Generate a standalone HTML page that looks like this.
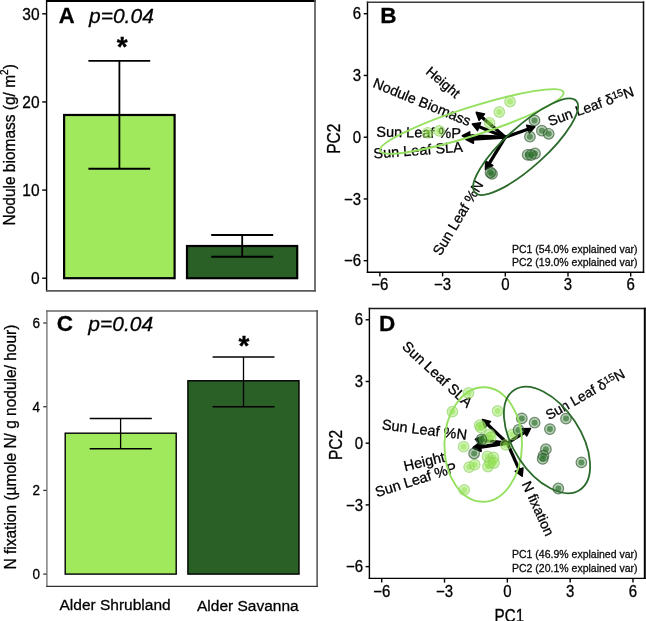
<!DOCTYPE html>
<html><head><meta charset="utf-8"><style>
html,body{margin:0;padding:0;background:#fff;}
svg{display:block;}
text{font-family:"Liberation Sans",sans-serif;stroke:#000;stroke-width:0.28px;}
</style></head><body>
<svg width="646" height="621" viewBox="0 0 646 621">
<defs><filter id="bl" x="0" y="0" width="100%" height="100%"><feGaussianBlur stdDeviation="0.45"/></filter></defs>
<rect width="646" height="621" fill="#fff"/>
<g filter="url(#bl)">
<rect width="646" height="621" fill="#fff"/>
<line x1="46.6" y1="0" x2="46.6" y2="291.5" stroke="#000" stroke-width="1.4" />
<line x1="46" y1="1" x2="316" y2="1" stroke="#000" stroke-width="2.2" />
<line x1="315" y1="0" x2="315" y2="291.5" stroke="#5a5a5a" stroke-width="1.7" />
<line x1="46" y1="290.8" x2="316" y2="290.8" stroke="#5a5a5a" stroke-width="1.7" />
<line x1="42.2" y1="278.2" x2="46.6" y2="278.2" stroke="#000" stroke-width="1.4" />
<text transform="translate(39.6,283.9) scale(1,1.09)" font-size="15.5" text-anchor="end" font-weight="normal" font-style="normal" fill="#000" >0</text>
<line x1="42.2" y1="190.07" x2="46.6" y2="190.07" stroke="#000" stroke-width="1.4" />
<text transform="translate(39.6,195.76999999999998) scale(1,1.09)" font-size="15.5" text-anchor="end" font-weight="normal" font-style="normal" fill="#000" >10</text>
<line x1="42.2" y1="101.93999999999997" x2="46.6" y2="101.93999999999997" stroke="#000" stroke-width="1.4" />
<text transform="translate(39.6,107.63999999999997) scale(1,1.09)" font-size="15.5" text-anchor="end" font-weight="normal" font-style="normal" fill="#000" >20</text>
<line x1="42.2" y1="13.809999999999945" x2="46.6" y2="13.809999999999945" stroke="#000" stroke-width="1.4" />
<text transform="translate(39.6,19.509999999999945) scale(1,1.09)" font-size="15.5" text-anchor="end" font-weight="normal" font-style="normal" fill="#000" >30</text>
<rect x="64.1" y="114.98" width="110.5" height="163.22" fill="#a0e85c" stroke="#000" stroke-width="2.2"/>
<rect x="187" y="246" width="110.2" height="32.20" fill="#2a5e28" stroke="#000" stroke-width="2.2"/>
<line x1="119.4" y1="60.9" x2="119.4" y2="168.8" stroke="#000" stroke-width="1.8" />
<line x1="88.4" y1="60.9" x2="150.2" y2="60.9" stroke="#000" stroke-width="1.9" />
<line x1="88.4" y1="168.8" x2="150.2" y2="168.8" stroke="#000" stroke-width="1.9" />
<line x1="242.2" y1="235" x2="242.2" y2="256.8" stroke="#000" stroke-width="1.8" />
<line x1="211.2" y1="235" x2="273.2" y2="235" stroke="#000" stroke-width="1.9" />
<line x1="211.2" y1="256.8" x2="273.2" y2="256.8" stroke="#000" stroke-width="1.9" />
<text x="58.8" y="23.2" font-size="22" text-anchor="start" font-weight="bold" font-style="normal" fill="#000" >A</text>
<text x="89" y="23.4" font-size="21" text-anchor="start" font-weight="normal" font-style="italic" fill="#000" >p=0.04</text>
<text x="122.2" y="56" font-size="28" text-anchor="middle" font-weight="bold" font-style="normal" fill="#000" >*</text>
<text transform="translate(15.2,225.5) rotate(-90) scale(1,1.12)" font-size="15.5" fill="#000">Nodule biomass (g/ m<tspan font-size="10" dy="-6">2</tspan><tspan dy="6">)</tspan></text>
<line x1="46.9" y1="310.3" x2="46.9" y2="587" stroke="#777" stroke-width="1.4" />
<line x1="46.2" y1="311" x2="317.8" y2="311" stroke="#666" stroke-width="1.5" />
<line x1="317.1" y1="310.3" x2="317.1" y2="587" stroke="#444" stroke-width="1.4" />
<line x1="46.2" y1="586.4" x2="317.8" y2="586.4" stroke="#333" stroke-width="1.4" />
<line x1="43.3" y1="574.1" x2="46.5" y2="574.1" stroke="#333" stroke-width="1.3" />
<text transform="translate(39.9,579.1) scale(1,1.07)" font-size="13.5" text-anchor="end" font-weight="normal" font-style="normal" fill="#000" >0</text>
<line x1="43.3" y1="490.40000000000003" x2="46.5" y2="490.40000000000003" stroke="#333" stroke-width="1.3" />
<text transform="translate(39.9,495.40000000000003) scale(1,1.07)" font-size="13.5" text-anchor="end" font-weight="normal" font-style="normal" fill="#000" >2</text>
<line x1="43.3" y1="406.70000000000005" x2="46.5" y2="406.70000000000005" stroke="#333" stroke-width="1.3" />
<text transform="translate(39.9,411.70000000000005) scale(1,1.07)" font-size="13.5" text-anchor="end" font-weight="normal" font-style="normal" fill="#000" >4</text>
<line x1="43.3" y1="323.0" x2="46.5" y2="323.0" stroke="#333" stroke-width="1.3" />
<text transform="translate(39.9,328.0) scale(1,1.07)" font-size="13.5" text-anchor="end" font-weight="normal" font-style="normal" fill="#000" >6</text>
<rect x="65.2" y="433.19" width="111" height="140.91" fill="#a0e85c" stroke="#000" stroke-width="1.4"/>
<rect x="187.9" y="380.75" width="111.1" height="193.35" fill="#2a5e28" stroke="#000" stroke-width="1.4"/>
<line x1="120.6" y1="418.6" x2="120.6" y2="448.7" stroke="#000" stroke-width="1.3" />
<line x1="89.7" y1="418.6" x2="151.8" y2="418.6" stroke="#000" stroke-width="1.5" />
<line x1="89.7" y1="448.7" x2="151.8" y2="448.7" stroke="#000" stroke-width="1.5" />
<line x1="243.5" y1="357.1" x2="243.5" y2="406.7" stroke="#000" stroke-width="1.3" />
<line x1="212.6" y1="357.1" x2="274.5" y2="357.1" stroke="#000" stroke-width="1.5" />
<line x1="212.6" y1="406.7" x2="274.5" y2="406.7" stroke="#000" stroke-width="1.5" />
<text x="56.8" y="331" font-size="22.5" text-anchor="start" font-weight="bold" font-style="normal" fill="#000" >C</text>
<text x="88.3" y="330.7" font-size="21" text-anchor="start" font-weight="normal" font-style="italic" fill="#000" >p=0.04</text>
<text x="243.9" y="355" font-size="28" text-anchor="middle" font-weight="bold" font-style="normal" fill="#000" >*</text>
<text transform="translate(16,569.5) rotate(-90) scale(1,1.07)" font-size="15.5" fill="#000">N fixation (µmole N/ g nodule/ hour)</text>
<text x="59.5" y="609.7" font-size="15.5" text-anchor="start" font-weight="normal" font-style="normal" fill="#000" >Alder Shrubland</text>
<text x="197" y="611.1" font-size="15.5" text-anchor="start" font-weight="normal" font-style="normal" fill="#000" >Alder Savanna</text>
<line x1="367.5" y1="1.5999999999999999" x2="367.5" y2="272.9" stroke="#000" stroke-width="1.4" />
<line x1="366.8" y1="2.3" x2="644.25" y2="2.3" stroke="#3a3a3a" stroke-width="1.4" />
<line x1="643.5" y1="1.5999999999999999" x2="643.5" y2="272.9" stroke="#111" stroke-width="1.5" />
<line x1="366.8" y1="272.2" x2="644.25" y2="272.2" stroke="#000" stroke-width="1.4" />
<line x1="363.7" y1="260.67999999999995" x2="367.5" y2="260.67999999999995" stroke="#000" stroke-width="1.4" />
<text transform="translate(361.2,266.37999999999994) scale(1,1.09)" font-size="15" text-anchor="end" font-weight="normal" font-style="normal" fill="#000" >−6</text>
<line x1="379.90000000000003" y1="272.2" x2="379.90000000000003" y2="276.4" stroke="#000" stroke-width="1.4" />
<text transform="translate(379.90000000000003,290.4) scale(1,1.09)" font-size="15" text-anchor="middle" font-weight="normal" font-style="normal" fill="#000" >−6</text>
<line x1="363.7" y1="198.94" x2="367.5" y2="198.94" stroke="#000" stroke-width="1.4" />
<text transform="translate(361.2,204.64) scale(1,1.09)" font-size="15" text-anchor="end" font-weight="normal" font-style="normal" fill="#000" >−3</text>
<line x1="442.6" y1="272.2" x2="442.6" y2="276.4" stroke="#000" stroke-width="1.4" />
<text transform="translate(442.6,290.4) scale(1,1.09)" font-size="15" text-anchor="middle" font-weight="normal" font-style="normal" fill="#000" >−3</text>
<line x1="363.7" y1="137.2" x2="367.5" y2="137.2" stroke="#000" stroke-width="1.4" />
<text transform="translate(361.2,142.89999999999998) scale(1,1.09)" font-size="15" text-anchor="end" font-weight="normal" font-style="normal" fill="#000" >0</text>
<line x1="505.3" y1="272.2" x2="505.3" y2="276.4" stroke="#000" stroke-width="1.4" />
<text transform="translate(505.3,290.4) scale(1,1.09)" font-size="15" text-anchor="middle" font-weight="normal" font-style="normal" fill="#000" >0</text>
<line x1="363.7" y1="75.46" x2="367.5" y2="75.46" stroke="#000" stroke-width="1.4" />
<text transform="translate(361.2,81.16) scale(1,1.09)" font-size="15" text-anchor="end" font-weight="normal" font-style="normal" fill="#000" >3</text>
<line x1="568.0" y1="272.2" x2="568.0" y2="276.4" stroke="#000" stroke-width="1.4" />
<text transform="translate(568.0,290.4) scale(1,1.09)" font-size="15" text-anchor="middle" font-weight="normal" font-style="normal" fill="#000" >3</text>
<line x1="363.7" y1="13.719999999999999" x2="367.5" y2="13.719999999999999" stroke="#000" stroke-width="1.4" />
<text transform="translate(361.2,19.419999999999998) scale(1,1.09)" font-size="15" text-anchor="end" font-weight="normal" font-style="normal" fill="#000" >6</text>
<line x1="630.7" y1="272.2" x2="630.7" y2="276.4" stroke="#000" stroke-width="1.4" />
<text transform="translate(630.7,290.4) scale(1,1.09)" font-size="15" text-anchor="middle" font-weight="normal" font-style="normal" fill="#000" >6</text>
<text x="380.2" y="23.3" font-size="22.5" text-anchor="start" font-weight="bold" font-style="normal" fill="#000" >B</text>
<text x="637.5" y="253.1" font-size="10.5" text-anchor="end" font-weight="normal" font-style="normal" fill="#111" >PC1 (54.0% explained var)</text>
<text x="637.5" y="265.5" font-size="10.5" text-anchor="end" font-weight="normal" font-style="normal" fill="#111" >PC2 (19.0% explained var)</text>
<text transform="translate(340.2,138.7) rotate(-90) scale(1,1.17)" font-size="15.5" text-anchor="middle" fill="#000">PC2</text>
<line x1="505.3" y1="137.2" x2="481.35" y2="116.72" stroke="#000" stroke-width="3.3"/>
<polygon points="476.30,112.40 479.07,120.23 484.46,113.92" fill="#000" stroke="#000" stroke-width="1.6" stroke-linejoin="round"/>
<line x1="505.3" y1="137.2" x2="478.56" y2="126.47" stroke="#000" stroke-width="3.3"/>
<polygon points="472.40,124.00 477.53,130.53 480.62,122.82" fill="#000" stroke="#000" stroke-width="1.6" stroke-linejoin="round"/>
<line x1="505.3" y1="137.2" x2="469.04" y2="136.02" stroke="#000" stroke-width="3.3"/>
<polygon points="462.40,135.80 469.45,140.18 469.72,131.89" fill="#000" stroke="#000" stroke-width="1.6" stroke-linejoin="round"/>
<line x1="505.3" y1="137.2" x2="472.63" y2="139.11" stroke="#000" stroke-width="3.3"/>
<polygon points="466.00,139.50 473.42,143.22 472.93,134.94" fill="#000" stroke="#000" stroke-width="1.6" stroke-linejoin="round"/>
<line x1="505.3" y1="137.2" x2="528.54" y2="128.93" stroke="#000" stroke-width="3.3"/>
<polygon points="534.80,126.70 526.64,125.20 529.42,133.02" fill="#000" stroke="#000" stroke-width="1.6" stroke-linejoin="round"/>
<line x1="505.3" y1="137.2" x2="488.97" y2="163.84" stroke="#000" stroke-width="3.3"/>
<polygon points="485.50,169.50 492.79,165.54 485.72,161.20" fill="#000" stroke="#000" stroke-width="1.6" stroke-linejoin="round"/>
<text transform="translate(425,72.9) rotate(40.5)" font-size="13.7" text-anchor="start" fill="#000">Height</text>
<text transform="translate(372,86.8) rotate(22.3)" font-size="14.3" text-anchor="start" fill="#000">Nodule Biomass</text>
<text transform="translate(376.3,136.7) rotate(1)" font-size="14.5" text-anchor="start" fill="#000">Sun Leaf %P</text>
<text transform="translate(373.8,158.5) rotate(-4.3)" font-size="14.5" text-anchor="start" fill="#000">Sun Leaf SLA</text>
<text transform="translate(550,126.2) rotate(-19.8)" font-size="14.2" fill="#000">Sun Leaf δ<tspan font-size="10.2" dy="-4">15</tspan><tspan dy="4">N</tspan></text>
<text transform="translate(440.5,256.6) rotate(-59)" font-size="14.3" text-anchor="start" fill="#000">Sun Leaf %N</text>
<circle cx="510" cy="101.5" r="5.3" fill="rgba(150,228,85,0.42)" stroke="rgba(140,208,95,0.62)" stroke-width="1.2"/>
<circle cx="510" cy="101.5" r="3" fill="rgba(140,225,70,0.5)"/>
<circle cx="499.3" cy="112" r="5.3" fill="rgba(150,228,85,0.42)" stroke="rgba(140,208,95,0.62)" stroke-width="1.2"/>
<circle cx="499.3" cy="112" r="3" fill="rgba(140,225,70,0.5)"/>
<circle cx="489.5" cy="122.8" r="5.3" fill="rgba(150,228,85,0.42)" stroke="rgba(140,208,95,0.62)" stroke-width="1.2"/>
<circle cx="489.5" cy="122.8" r="3" fill="rgba(140,225,70,0.5)"/>
<circle cx="427.7" cy="132.8" r="5.3" fill="rgba(150,228,85,0.42)" stroke="rgba(140,208,95,0.62)" stroke-width="1.2"/>
<circle cx="427.7" cy="132.8" r="3" fill="rgba(140,225,70,0.5)"/>
<circle cx="439.3" cy="130.9" r="5.3" fill="rgba(150,228,85,0.42)" stroke="rgba(140,208,95,0.62)" stroke-width="1.2"/>
<circle cx="439.3" cy="130.9" r="3" fill="rgba(140,225,70,0.5)"/>
<circle cx="534.5" cy="120.4" r="5.3" fill="rgba(60,125,60,0.38)" stroke="rgba(45,85,45,0.65)" stroke-width="1.2"/>
<circle cx="534.5" cy="120.4" r="3" fill="rgba(40,110,40,0.62)"/>
<circle cx="529.9" cy="136.7" r="5.3" fill="rgba(60,125,60,0.38)" stroke="rgba(45,85,45,0.65)" stroke-width="1.2"/>
<circle cx="529.9" cy="136.7" r="3" fill="rgba(40,110,40,0.62)"/>
<circle cx="541.9" cy="130.7" r="5.3" fill="rgba(60,125,60,0.38)" stroke="rgba(45,85,45,0.65)" stroke-width="1.2"/>
<circle cx="541.9" cy="130.7" r="3" fill="rgba(40,110,40,0.62)"/>
<circle cx="548.7" cy="133.8" r="5.3" fill="rgba(60,125,60,0.38)" stroke="rgba(45,85,45,0.65)" stroke-width="1.2"/>
<circle cx="548.7" cy="133.8" r="3" fill="rgba(40,110,40,0.62)"/>
<circle cx="527.7" cy="154.8" r="5.3" fill="rgba(60,125,60,0.38)" stroke="rgba(45,85,45,0.65)" stroke-width="1.2"/>
<circle cx="527.7" cy="154.8" r="3" fill="rgba(40,110,40,0.62)"/>
<circle cx="535" cy="153.5" r="5.3" fill="rgba(60,125,60,0.38)" stroke="rgba(45,85,45,0.65)" stroke-width="1.2"/>
<circle cx="535" cy="153.5" r="3" fill="rgba(40,110,40,0.62)"/>
<circle cx="531" cy="155" r="5.3" fill="rgba(60,125,60,0.38)" stroke="rgba(45,85,45,0.65)" stroke-width="1.2"/>
<circle cx="531" cy="155" r="3" fill="rgba(40,110,40,0.62)"/>
<circle cx="492" cy="173.9" r="5.3" fill="rgba(60,125,60,0.38)" stroke="rgba(45,85,45,0.65)" stroke-width="1.2"/>
<circle cx="492" cy="173.9" r="3" fill="rgba(40,110,40,0.62)"/>
<circle cx="490.5" cy="172.5" r="5.3" fill="rgba(60,125,60,0.38)" stroke="rgba(45,85,45,0.65)" stroke-width="1.2"/>
<circle cx="490.5" cy="172.5" r="3" fill="rgba(40,110,40,0.62)"/>
<ellipse cx="471.8" cy="121.45" rx="96.3" ry="14.2" transform="rotate(-17.74 471.8 121.45)" fill="none" stroke="#95e05e" stroke-width="1.9"/>
<ellipse cx="525.6" cy="146.7" rx="68.3" ry="20.2" transform="rotate(-42.1 525.6 146.7)" fill="none" stroke="#2b6a2b" stroke-width="1.8"/>
<line x1="369.4" y1="307.85" x2="369.4" y2="579.1" stroke="#000" stroke-width="1.4" />
<line x1="368.7" y1="308.5" x2="645.8" y2="308.5" stroke="#1a1a1a" stroke-width="1.3" />
<line x1="644.8" y1="307.85" x2="644.8" y2="579.1" stroke="#000" stroke-width="2.0" />
<line x1="368.7" y1="578.4" x2="645.8" y2="578.4" stroke="#000" stroke-width="1.4" />
<line x1="365.59999999999997" y1="566.62" x2="369.4" y2="566.62" stroke="#000" stroke-width="1.4" />
<text transform="translate(363.09999999999997,572.32) scale(1,1.09)" font-size="15" text-anchor="end" font-weight="normal" font-style="normal" fill="#000" >−6</text>
<line x1="381.71000000000004" y1="578.4" x2="381.71000000000004" y2="582.6" stroke="#000" stroke-width="1.4" />
<text transform="translate(381.71000000000004,596.6) scale(1,1.09)" font-size="15" text-anchor="middle" font-weight="normal" font-style="normal" fill="#000" >−6</text>
<line x1="365.59999999999997" y1="504.90999999999997" x2="369.4" y2="504.90999999999997" stroke="#000" stroke-width="1.4" />
<text transform="translate(363.09999999999997,510.60999999999996) scale(1,1.09)" font-size="15" text-anchor="end" font-weight="normal" font-style="normal" fill="#000" >−3</text>
<line x1="444.53000000000003" y1="578.4" x2="444.53000000000003" y2="582.6" stroke="#000" stroke-width="1.4" />
<text transform="translate(444.53000000000003,596.6) scale(1,1.09)" font-size="15" text-anchor="middle" font-weight="normal" font-style="normal" fill="#000" >−3</text>
<line x1="365.59999999999997" y1="443.2" x2="369.4" y2="443.2" stroke="#000" stroke-width="1.4" />
<text transform="translate(363.09999999999997,448.9) scale(1,1.09)" font-size="15" text-anchor="end" font-weight="normal" font-style="normal" fill="#000" >0</text>
<line x1="507.35" y1="578.4" x2="507.35" y2="582.6" stroke="#000" stroke-width="1.4" />
<text transform="translate(507.35,596.6) scale(1,1.09)" font-size="15" text-anchor="middle" font-weight="normal" font-style="normal" fill="#000" >0</text>
<line x1="365.59999999999997" y1="381.49" x2="369.4" y2="381.49" stroke="#000" stroke-width="1.4" />
<text transform="translate(363.09999999999997,387.19) scale(1,1.09)" font-size="15" text-anchor="end" font-weight="normal" font-style="normal" fill="#000" >3</text>
<line x1="570.1700000000001" y1="578.4" x2="570.1700000000001" y2="582.6" stroke="#000" stroke-width="1.4" />
<text transform="translate(570.1700000000001,596.6) scale(1,1.09)" font-size="15" text-anchor="middle" font-weight="normal" font-style="normal" fill="#000" >3</text>
<line x1="365.59999999999997" y1="319.78" x2="369.4" y2="319.78" stroke="#000" stroke-width="1.4" />
<text transform="translate(363.09999999999997,325.47999999999996) scale(1,1.09)" font-size="15" text-anchor="end" font-weight="normal" font-style="normal" fill="#000" >6</text>
<line x1="632.99" y1="578.4" x2="632.99" y2="582.6" stroke="#000" stroke-width="1.4" />
<text transform="translate(632.99,596.6) scale(1,1.09)" font-size="15" text-anchor="middle" font-weight="normal" font-style="normal" fill="#000" >6</text>
<text x="379" y="330.6" font-size="22.5" text-anchor="start" font-weight="bold" font-style="normal" fill="#000" >D</text>
<text x="637.5" y="558" font-size="10.5" text-anchor="end" font-weight="normal" font-style="normal" fill="#111" >PC1 (46.9% explained var)</text>
<text x="637.5" y="571.5" font-size="10.5" text-anchor="end" font-weight="normal" font-style="normal" fill="#111" >PC2 (20.1% explained var)</text>
<text transform="translate(342.3,445) rotate(-90) scale(1,1.17)" font-size="15.5" text-anchor="middle" fill="#000">PC2</text>
<text transform="translate(509.3,622.2) scale(1,1.15)" font-size="15.2" text-anchor="middle" fill="#000">PC1</text>
<line x1="507.35" y1="443.2" x2="487.22" y2="424.16" stroke="#000" stroke-width="3.3"/>
<polygon points="482.40,419.60 484.77,427.55 490.47,421.52" fill="#000" stroke="#000" stroke-width="1.6" stroke-linejoin="round"/>
<line x1="507.35" y1="443.2" x2="481.99" y2="440.10" stroke="#000" stroke-width="3.3"/>
<polygon points="475.40,439.30 482.03,444.29 483.04,436.05" fill="#000" stroke="#000" stroke-width="1.6" stroke-linejoin="round"/>
<line x1="507.35" y1="443.2" x2="479.79" y2="446.59" stroke="#000" stroke-width="3.3"/>
<polygon points="473.20,447.40 480.84,450.64 479.83,442.40" fill="#000" stroke="#000" stroke-width="1.6" stroke-linejoin="round"/>
<line x1="507.35" y1="443.2" x2="479.77" y2="447.32" stroke="#000" stroke-width="3.3"/>
<polygon points="473.20,448.30 480.92,451.34 479.70,443.13" fill="#000" stroke="#000" stroke-width="1.6" stroke-linejoin="round"/>
<line x1="507.35" y1="443.2" x2="524.89" y2="432.06" stroke="#000" stroke-width="3.3"/>
<polygon points="530.50,428.50 522.21,428.85 526.66,435.86" fill="#000" stroke="#000" stroke-width="1.6" stroke-linejoin="round"/>
<line x1="507.35" y1="443.2" x2="519.39" y2="470.14" stroke="#000" stroke-width="3.3"/>
<polygon points="522.10,476.20 522.96,467.94 515.38,471.33" fill="#000" stroke="#000" stroke-width="1.6" stroke-linejoin="round"/>
<text transform="translate(401.2,347.6) rotate(42.8)" font-size="14.5" text-anchor="start" fill="#000">Sun Leaf SLA</text>
<text transform="translate(381.5,429.3) rotate(7.1)" font-size="14.5" text-anchor="start" fill="#000">Sun Leaf %N</text>
<text transform="translate(405,471.3) rotate(-13.5)" font-size="14.5" text-anchor="start" fill="#000">Height</text>
<text transform="translate(377,497.2) rotate(-17.5)" font-size="14.5" text-anchor="start" fill="#000">Sun Leaf %P</text>
<text transform="translate(549,420.3) rotate(-29.5)" font-size="13.9" fill="#000">Sun Leaf δ<tspan font-size="10" dy="-3.3">15</tspan><tspan dy="3.3">N</tspan></text>
<text transform="translate(521.6,484) rotate(65.5)" font-size="14" text-anchor="start" fill="#000">N fixation</text>
<circle cx="468.5" cy="393" r="5.3" fill="rgba(150,228,85,0.42)" stroke="rgba(140,208,95,0.62)" stroke-width="1.2"/>
<circle cx="468.5" cy="393" r="3" fill="rgba(140,225,70,0.5)"/>
<circle cx="452.4" cy="411.6" r="5.3" fill="rgba(150,228,85,0.42)" stroke="rgba(140,208,95,0.62)" stroke-width="1.2"/>
<circle cx="452.4" cy="411.6" r="3" fill="rgba(140,225,70,0.5)"/>
<circle cx="497.6" cy="411" r="5.3" fill="rgba(150,228,85,0.42)" stroke="rgba(140,208,95,0.62)" stroke-width="1.2"/>
<circle cx="497.6" cy="411" r="3" fill="rgba(140,225,70,0.5)"/>
<circle cx="479.7" cy="425.2" r="5.3" fill="rgba(150,228,85,0.42)" stroke="rgba(140,208,95,0.62)" stroke-width="1.2"/>
<circle cx="479.7" cy="425.2" r="3" fill="rgba(140,225,70,0.5)"/>
<circle cx="489.6" cy="434.5" r="5.3" fill="rgba(150,228,85,0.42)" stroke="rgba(140,208,95,0.62)" stroke-width="1.2"/>
<circle cx="489.6" cy="434.5" r="3" fill="rgba(140,225,70,0.5)"/>
<circle cx="512.5" cy="434.5" r="5.3" fill="rgba(150,228,85,0.42)" stroke="rgba(140,208,95,0.62)" stroke-width="1.2"/>
<circle cx="512.5" cy="434.5" r="3" fill="rgba(140,225,70,0.5)"/>
<circle cx="463.6" cy="446.7" r="5.3" fill="rgba(150,228,85,0.42)" stroke="rgba(140,208,95,0.62)" stroke-width="1.2"/>
<circle cx="463.6" cy="446.7" r="3" fill="rgba(140,225,70,0.5)"/>
<circle cx="469.1" cy="467.1" r="5.3" fill="rgba(150,228,85,0.42)" stroke="rgba(140,208,95,0.62)" stroke-width="1.2"/>
<circle cx="469.1" cy="467.1" r="3" fill="rgba(140,225,70,0.5)"/>
<circle cx="474.7" cy="464.6" r="5.3" fill="rgba(150,228,85,0.42)" stroke="rgba(140,208,95,0.62)" stroke-width="1.2"/>
<circle cx="474.7" cy="464.6" r="3" fill="rgba(140,225,70,0.5)"/>
<circle cx="487.5" cy="456.5" r="5.3" fill="rgba(150,228,85,0.42)" stroke="rgba(140,208,95,0.62)" stroke-width="1.2"/>
<circle cx="487.5" cy="456.5" r="3" fill="rgba(140,225,70,0.5)"/>
<circle cx="493.5" cy="457.5" r="5.3" fill="rgba(150,228,85,0.42)" stroke="rgba(140,208,95,0.62)" stroke-width="1.2"/>
<circle cx="493.5" cy="457.5" r="3" fill="rgba(140,225,70,0.5)"/>
<circle cx="490" cy="462.5" r="5.3" fill="rgba(150,228,85,0.42)" stroke="rgba(140,208,95,0.62)" stroke-width="1.2"/>
<circle cx="490" cy="462.5" r="3" fill="rgba(140,225,70,0.5)"/>
<circle cx="488" cy="466.5" r="5.3" fill="rgba(150,228,85,0.42)" stroke="rgba(140,208,95,0.62)" stroke-width="1.2"/>
<circle cx="488" cy="466.5" r="3" fill="rgba(140,225,70,0.5)"/>
<circle cx="484.6" cy="439.2" r="5.3" fill="rgba(150,228,85,0.42)" stroke="rgba(140,208,95,0.62)" stroke-width="1.2"/>
<circle cx="484.6" cy="439.2" r="3" fill="rgba(140,225,70,0.5)"/>
<circle cx="490.8" cy="437.4" r="5.3" fill="rgba(150,228,85,0.42)" stroke="rgba(140,208,95,0.62)" stroke-width="1.2"/>
<circle cx="490.8" cy="437.4" r="3" fill="rgba(140,225,70,0.5)"/>
<circle cx="505.7" cy="444.8" r="5.3" fill="rgba(150,228,85,0.42)" stroke="rgba(140,208,95,0.62)" stroke-width="1.2"/>
<circle cx="505.7" cy="444.8" r="3" fill="rgba(140,225,70,0.5)"/>
<circle cx="480.9" cy="427.5" r="5.3" fill="rgba(150,228,85,0.42)" stroke="rgba(140,208,95,0.62)" stroke-width="1.2"/>
<circle cx="480.9" cy="427.5" r="3" fill="rgba(140,225,70,0.5)"/>
<circle cx="464.2" cy="489.9" r="5.3" fill="rgba(150,228,85,0.42)" stroke="rgba(140,208,95,0.62)" stroke-width="1.2"/>
<circle cx="464.2" cy="489.9" r="3" fill="rgba(140,225,70,0.5)"/>
<circle cx="494" cy="463" r="5.3" fill="rgba(150,228,85,0.42)" stroke="rgba(140,208,95,0.62)" stroke-width="1.2"/>
<circle cx="494" cy="463" r="3" fill="rgba(140,225,70,0.5)"/>
<circle cx="474.1" cy="453.5" r="5.3" fill="rgba(60,125,60,0.38)" stroke="rgba(45,85,45,0.65)" stroke-width="1.2"/>
<circle cx="474.1" cy="453.5" r="3" fill="rgba(40,110,40,0.62)"/>
<circle cx="481.5" cy="439.5" r="5.3" fill="rgba(60,125,60,0.38)" stroke="rgba(45,85,45,0.65)" stroke-width="1.2"/>
<circle cx="481.5" cy="439.5" r="3" fill="rgba(40,110,40,0.62)"/>
<circle cx="521.8" cy="418.4" r="5.3" fill="rgba(60,125,60,0.38)" stroke="rgba(45,85,45,0.65)" stroke-width="1.2"/>
<circle cx="521.8" cy="418.4" r="3" fill="rgba(40,110,40,0.62)"/>
<circle cx="518.6" cy="430" r="5.3" fill="rgba(60,125,60,0.38)" stroke="rgba(45,85,45,0.65)" stroke-width="1.2"/>
<circle cx="518.6" cy="430" r="3" fill="rgba(40,110,40,0.62)"/>
<circle cx="534.6" cy="422.7" r="5.3" fill="rgba(60,125,60,0.38)" stroke="rgba(45,85,45,0.65)" stroke-width="1.2"/>
<circle cx="534.6" cy="422.7" r="3" fill="rgba(40,110,40,0.62)"/>
<circle cx="549.9" cy="429.1" r="5.3" fill="rgba(60,125,60,0.38)" stroke="rgba(45,85,45,0.65)" stroke-width="1.2"/>
<circle cx="549.9" cy="429.1" r="3" fill="rgba(40,110,40,0.62)"/>
<circle cx="566" cy="418.6" r="5.3" fill="rgba(60,125,60,0.38)" stroke="rgba(45,85,45,0.65)" stroke-width="1.2"/>
<circle cx="566" cy="418.6" r="3" fill="rgba(40,110,40,0.62)"/>
<circle cx="545.9" cy="449.2" r="5.3" fill="rgba(60,125,60,0.38)" stroke="rgba(45,85,45,0.65)" stroke-width="1.2"/>
<circle cx="545.9" cy="449.2" r="3" fill="rgba(40,110,40,0.62)"/>
<circle cx="543.5" cy="455.7" r="5.3" fill="rgba(60,125,60,0.38)" stroke="rgba(45,85,45,0.65)" stroke-width="1.2"/>
<circle cx="543.5" cy="455.7" r="3" fill="rgba(40,110,40,0.62)"/>
<circle cx="542.7" cy="458.9" r="5.3" fill="rgba(60,125,60,0.38)" stroke="rgba(45,85,45,0.65)" stroke-width="1.2"/>
<circle cx="542.7" cy="458.9" r="3" fill="rgba(40,110,40,0.62)"/>
<circle cx="581.4" cy="462.4" r="5.3" fill="rgba(60,125,60,0.38)" stroke="rgba(45,85,45,0.65)" stroke-width="1.2"/>
<circle cx="581.4" cy="462.4" r="3" fill="rgba(40,110,40,0.62)"/>
<circle cx="558.3" cy="488.5" r="5.3" fill="rgba(60,125,60,0.38)" stroke="rgba(45,85,45,0.65)" stroke-width="1.2"/>
<circle cx="558.3" cy="488.5" r="3" fill="rgba(40,110,40,0.62)"/>
<ellipse cx="483.2" cy="444.5" rx="38.8" ry="57.3" transform="rotate(0.9 483.2 444.5)" fill="none" stroke="#95e05e" stroke-width="1.9"/>
<ellipse cx="547" cy="440" rx="59.7" ry="33.5" transform="rotate(56.7 547 440)" fill="none" stroke="#2b6a2b" stroke-width="1.8"/>
</g>
</svg></body></html>
